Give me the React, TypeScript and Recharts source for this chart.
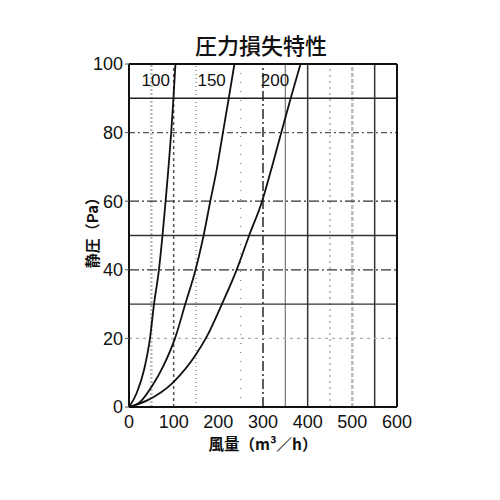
import React from 'react';
import { LineChart, Line, XAxis, YAxis, ReferenceLine, ReferenceDot, Label } from 'recharts';

const flow100 = [0, 17, 34, 47, 56, 67, 75, 82, 88.5, 94.5, 99.5, 104];
const pres100 = [0, 4, 11, 20, 30, 40, 50, 60, 70, 80, 90, 100];
const flow150 = [0, 25, 51, 77, 103, 126, 149, 167, 182, 196, 209, 222, 236];
const pres150 = [0, 1.5, 6, 12, 20, 30, 40, 50, 60, 69, 79, 89, 100];
const flow200 = [0, 42, 99, 151, 174, 208, 241, 269, 298, 320, 341, 362, 384];
const pres200 = [0, 2, 7.2, 15.5, 20.5, 30, 40, 50, 60, 70, 80, 90, 100];

const xTicks = [0, 100, 200, 300, 400, 500, 600];
const yTicks = [0, 20, 40, 60, 80, 100];

const gridX = [50, 100, 150, 250, 300, 350, 400, 450, 500, 550];
const gridY = [20, 30, 40, 50, 60, 80, 90];

const curveNames = ['100', '150', '200'];
const curveLabelX = [60, 185, 327];
const curveLabelY = [95.3, 95.3, 95.3];

const title = '圧力損失特性';
const xTitle = '風量（m³／h）';
const yTitle = '静圧（Pa）';

const toData = (xs: number[], ys: number[]) => xs.map((x, i) => ({ x, y: ys[i] }));
const series = [toData(flow100, pres100), toData(flow150, pres150), toData(flow200, pres200)];

const xStyle: Record<number, any> = {
  50: { stroke: '#bbb', strokeWidth: 2.5, strokeDasharray: '2 2' },
  100: { stroke: '#555', strokeWidth: 1.5, strokeDasharray: '3 3' },
  150: { stroke: '#777', strokeWidth: 1.2, strokeDasharray: '1 3' },
  250: { stroke: '#888', strokeWidth: 1.2, strokeDasharray: '1 8' },
  300: { stroke: '#333', strokeWidth: 1.6, strokeDasharray: '10 3 2 3' },
  350: { stroke: '#777', strokeWidth: 1.2 },
  400: { stroke: '#333', strokeWidth: 1.5 },
  450: { stroke: '#aaa', strokeWidth: 1.5, strokeDasharray: '2 4' },
  500: { stroke: '#bbb', strokeWidth: 2.5, strokeDasharray: '4 2' },
  550: { stroke: '#333', strokeWidth: 1.5 },
};
const yStyle: Record<number, any> = {
  20: { stroke: '#aaa', strokeWidth: 1.2, strokeDasharray: '3 4' },
  30: { stroke: '#333', strokeWidth: 1.3 },
  40: { stroke: '#333', strokeWidth: 1.3, strokeDasharray: '10 3 2 3' },
  50: { stroke: '#333', strokeWidth: 1.3 },
  60: { stroke: '#333', strokeWidth: 1.3, strokeDasharray: '10 3 2 3' },
  80: { stroke: '#555', strokeWidth: 1.2, strokeDasharray: '6 3 2 3' },
  90: { stroke: '#222', strokeWidth: 1.5 },
};

const font = 'Liberation Sans, Arial, sans-serif';
const cjk = '"Noto Sans CJK JP", sans-serif';

export default function App() {
  return (
    <div style={{ position: 'absolute', left: 0, top: 0, width: 500, height: 500, background: '#fff' }}>
      <LineChart width={500} height={500} margin={{ top: 64, right: 103, bottom: 63, left: 89 }}>
        <XAxis
          type="number"
          dataKey="x"
          domain={[0, 600]}
          ticks={xTicks}
          allowDataOverflow
          axisLine={{ stroke: '#111', strokeWidth: 2 }}
          tickLine={false}
          tick={{ fill: '#111', fontSize: 18, fontFamily: font }}
          tickMargin={2}
          height={30}
        />
        <YAxis
          type="number"
          dataKey="y"
          domain={[0, 100]}
          ticks={yTicks}
          allowDataOverflow
          axisLine={{ stroke: '#111', strokeWidth: 2 }}
          tickLine={{ stroke: '#555' }}
          tickSize={4}
          tick={{ fill: '#111', fontSize: 18, fontFamily: font }}
          tickMargin={2}
          width={40}
        />
        {gridX.map((v) => (
          <ReferenceLine key={'gx' + v} x={v} {...xStyle[v]} />
        ))}
        {gridY.map((v) => (
          <ReferenceLine key={'gy' + v} y={v} {...yStyle[v]} />
        ))}
        <ReferenceLine x={600} stroke="#111" strokeWidth={2} />
        <ReferenceLine y={100} stroke="#111" strokeWidth={2} />
        {series.map((d, i) => (
          <Line
            key={curveNames[i]}
            data={d}
            dataKey="y"
            type="monotone"
            stroke="#111"
            strokeWidth={1.8}
            dot={false}
            isAnimationActive={false}
          />
        ))}
        {curveNames.map((n, i) => (
          <ReferenceDot key={'l' + n} x={curveLabelX[i]} y={curveLabelY[i]} r={0} stroke="none" fill="none">
            <Label value={n} position="center" fill="#111" fontSize={17} fontFamily={font} />
          </ReferenceDot>
        ))}
      </LineChart>
      <div style={{ position: 'absolute', left: 0, width: 522, top: 30, textAlign: 'center', fontFamily: cjk, fontSize: 22, fontWeight: 500, color: '#111', lineHeight: '28px' }}>
        {title}
      </div>
      <div style={{ position: 'absolute', left: 0, width: 526, top: 432, textAlign: 'center', fontFamily: cjk, fontSize: 15.5, fontWeight: 700, color: '#111', lineHeight: '22px' }}>
        {xTitle}
      </div>
      <div style={{ position: 'absolute', left: 92, top: 229, transform: 'translate(-50%, -50%) rotate(-90deg)', whiteSpace: 'nowrap', fontFamily: cjk, fontSize: 15, fontWeight: 700, color: '#111', lineHeight: '20px' }}>
        {yTitle}
      </div>
    </div>
  );
}
